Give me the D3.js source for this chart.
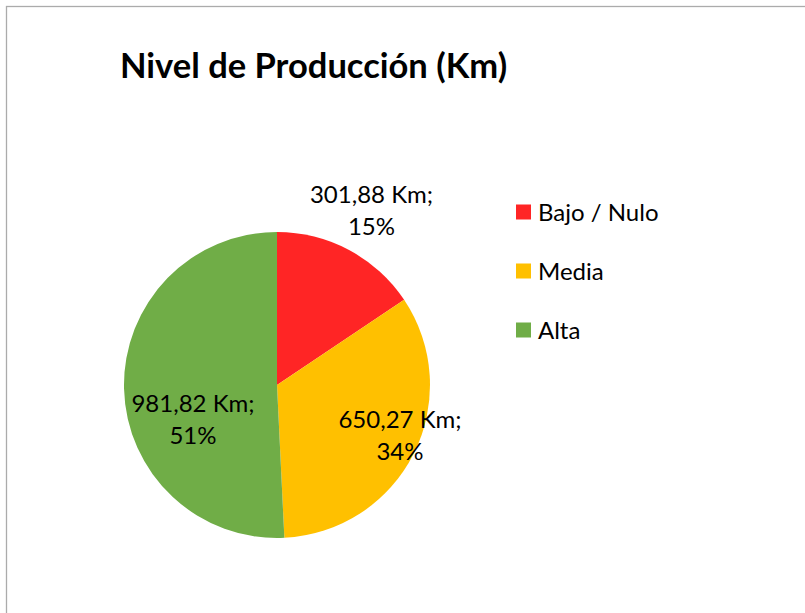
<!DOCTYPE html>
<html><head><meta charset="utf-8">
<script src="https://cdn.jsdelivr.net/npm/d3@7"></script>
<style>body{margin:0;background:#fff}svg{display:block}</style>
</head><body>
<script>
const categories = ["Bajo / Nulo", "Media", "Alta"];
const values = [301.88, 650.27, 981.82];
const valueLabels = ["301,88 Km;", "650,27 Km;", "981,82 Km;"];
const percentLabels = ["15%", "34%", "51%"];
const colors = ["#ff2525", "#ffc000", "#70ad47"];
const title = "Nivel de Producción (Km)";

const W = 805, H = 613;
const svg = d3.select("body").append("svg").attr("width", W).attr("height", H);
const font = "Lato, 'Open Sans', sans-serif";

svg.append("rect").attr("x", 6.5).attr("y", 6.5).attr("width", W + 10).attr("height", H + 10)
  .attr("fill", "#fff").attr("stroke", "#ababab").attr("stroke-width", 1.3);

svg.append("text").attr("x", 120).attr("y", 78).text(title)
  .attr("font-family", font).attr("font-weight", "bold").attr("font-size", 34.5).attr("fill", "#000");

const cx = 277, cy = 385, R = 153;
const pie = d3.pie().sort(null).value(d => d)(values);
const arc = d3.arc().innerRadius(0).outerRadius(R);
const g = svg.append("g").attr("transform", `translate(${cx},${cy})`);
g.selectAll("path").data(pie).join("path").attr("d", arc).attr("fill", (d, i) => colors[i]);

// label centers (relative to pie center)
const labelPos = [[94.5, -182], [123, 43], [-84, 27]];
const lab = svg.append("g").attr("font-family", font).attr("font-size", 24).attr("fill", "#000").attr("text-anchor", "middle");
pie.forEach((d, i) => {
  const t = lab.append("text").attr("x", cx + labelPos[i][0]).attr("y", cy + labelPos[i][1]);
  t.append("tspan").attr("x", cx + labelPos[i][0]).text(valueLabels[i]);
  t.append("tspan").attr("x", cx + labelPos[i][0]).attr("dy", 32).text(percentLabels[i]);
});

const leg = svg.append("g").attr("font-family", font).attr("font-size", 24);
categories.forEach((c, i) => {
  const y = 212 + i * 59;
  leg.append("rect").attr("x", 516).attr("y", y - 7.5).attr("width", 15).attr("height", 15).attr("fill", colors[i]);
  leg.append("text").attr("x", 538).attr("y", y + 9).text(c).attr("fill", "#000");
});
</script>
</body></html>
